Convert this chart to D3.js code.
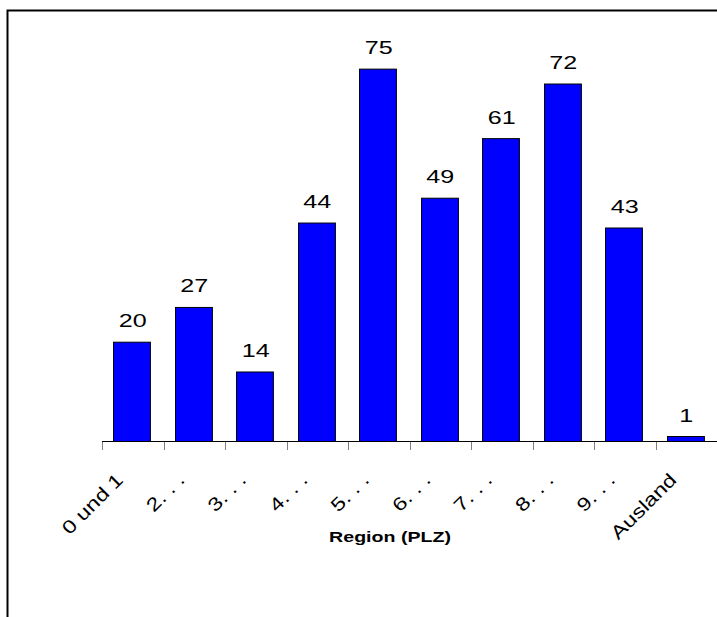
<!DOCTYPE html>
<html>
<head>
<meta charset="utf-8">
<script src="https://cdn.jsdelivr.net/npm/d3@7"></script>
<style>
  html, body { margin: 0; padding: 0; background: #fff; }
  svg { display: block; }
  text { font-family: "Liberation Sans", Arial, sans-serif; }
</style>
</head>
<body>
<svg id="chart" width="717" height="617"></svg>
<script>
// Responses per postal region (PLZ)
const categories = ["0 und 1", "2. . .", "3. . .", "4. . .", "5. . .", "6. . .", "7. . .", "8. . .", "9. . .", "Ausland"];
const counts = [20, 27, 14, 44, 75, 49, 61, 72, 43, 1];
const axisTitle = "Region (PLZ)";

const svg = d3.select("#chart");

// outer frame (top and left edges visible in the window)
svg.append("rect")
  .attr("x", 7.5).attr("y", 10.5)
  .attr("width", 760).attr("height", 660)
  .attr("fill", "none")
  .attr("stroke", "#000")
  .attr("stroke-width", 2);

const x = d3.scaleBand()
  .domain(categories)
  .range([102, 717])
  .paddingInner(0.4)
  .paddingOuter(0.2);

const y = d3.scaleLinear()
  .domain([0, 80])
  .range([441.5, 44.3]);

// bars
svg.append("g")
  .selectAll("rect")
  .data(categories)
  .join("rect")
  .attr("x", (d) => Math.round(x(d)) - 0.5)
  .attr("y", (d, i) => y(counts[i]))
  .attr("width", x.bandwidth())
  .attr("height", (d, i) => y(0) - y(counts[i]))
  .attr("fill", "#0000ff")
  .attr("stroke", "#000")
  .attr("stroke-width", 1);

// value labels above bars (wide glyphs)
svg.append("g")
  .selectAll("text")
  .data(categories)
  .join("text")
  .attr("text-anchor", "middle")
  .attr("font-size", 18.6)
  .attr("fill", "#000")
  .attr("transform", (d, i) =>
    `translate(${x(d) + x.bandwidth() / 2},${y(counts[i]) - 15}) scale(1.35,1)`)
  .text((d, i) => counts[i]);

// category axis: line, tick marks at band boundaries
const step = x.step();
const boundaries = categories.map((d) => x(d) - (step - x.bandwidth()) / 2);

const axis = svg.append("g");
axis.append("line")
  .attr("x1", 102).attr("x2", 717)
  .attr("y1", 441.5).attr("y2", 441.5)
  .attr("stroke", "#000");
axis.selectAll("line.tick")
  .data(boundaries)
  .join("line")
  .attr("class", "tick")
  .attr("x1", (d) => Math.round(d) + 0.5)
  .attr("x2", (d) => Math.round(d) + 0.5)
  .attr("y1", 442).attr("y2", 450)
  .attr("stroke", "#808080");

// rotated category labels
axis.selectAll("text")
  .data(categories)
  .join("text")
  .attr("text-anchor", "end")
  .attr("font-size", 18.6)
  .attr("fill", "#000")
  .attr("transform", (d) => {
    const cx = x(d) + x.bandwidth() / 2 - 8.5;
    return `translate(${cx},${481}) rotate(-45) scale(1.25,1)`;
  })
  .text((d) => d);

// axis title
svg.append("text")
  .attr("text-anchor", "middle")
  .attr("font-size", 14)
  .attr("font-weight", "bold")
  .attr("fill", "#000")
  .attr("transform", `translate(390,542) scale(1.4,1)`)
  .text(axisTitle);
</script>
</body>
</html>
